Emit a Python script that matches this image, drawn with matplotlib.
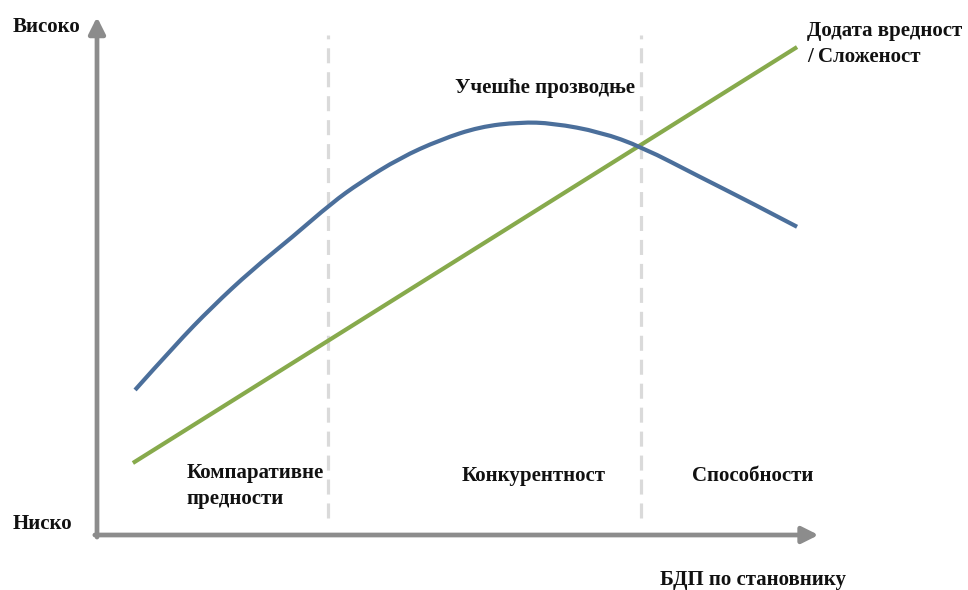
import matplotlib.pyplot as plt
from matplotlib.path import Path
from matplotlib.patches import PathPatch

plt.rcParams['font.family'] = ['Liberation Serif', 'DejaVu Serif']

# values on a 0-100 conceptual scale (x: БДП, y: ниско -> високо)
blue_x = [5.3, 10.9, 16.0, 21.6, 27.2, 32.7, 36.6, 42.2, 47.8, 53.3, 58.9, 63.5, 70.1, 75.9, 84.0, 90.9, 97.5]
blue_y = [28.0, 36.7, 44.0, 51.2, 57.5, 64.1, 68.0, 72.8, 76.3, 78.8, 79.7, 79.5, 77.8, 74.9, 69.1, 64.3, 59.5]
green_x = [5.0, 97.5]
green_y = [13.9, 94.2]
borders = [32.2, 75.8]
stage_labels = ['Компаративне\nпредности', 'Конкурентност', 'Способности']


def smooth_path(xs, ys):
    # quadratic bezier through the midpoints, data points as control points
    pts = list(zip(xs, ys))
    verts = [pts[0]]
    codes = [Path.MOVETO]
    for i in range(1, len(pts) - 1):
        nxt = pts[i + 1] if i == len(pts) - 2 else ((pts[i][0] + pts[i + 1][0]) / 2, (pts[i][1] + pts[i + 1][1]) / 2)
        verts += [pts[i], nxt]
        codes += [Path.CURVE3, Path.CURVE3]
    return Path(verts, codes)


fig = plt.figure(figsize=(9.68, 5.90), dpi=100)
ax = fig.add_axes([97 / 968, 55 / 590, 718 / 968, 518 / 590])
ax.set_xlim(0, 100)
ax.set_ylim(0, 100)
ax.axis('off')

# dashed stage borders
for b in borders:
    ax.plot([b, b], [3.3, 96.5], color='#dadada', lw=2.3, dashes=(4.7, 2.8), clip_on=False, zorder=1)

ax.add_patch(PathPatch(smooth_path(blue_x, blue_y), facecolor='none', edgecolor='#4b6f9b',
                       lw=3.0, capstyle='butt', clip_on=False, zorder=3))
ax.plot(green_x, green_y, color='#87aa4c', lw=3.0, solid_capstyle='butt', clip_on=False, zorder=2)

# axes with arrows
arrow = dict(arrowstyle='-|>,head_length=0.7,head_width=0.35', color='#8c8c8c', lw=3.4,
             shrinkA=0, shrinkB=0, mutation_scale=14)
ax.annotate('', xy=(0, 100), xytext=(0, -0.4), arrowprops=arrow, annotation_clip=False)
ax.annotate('', xy=(100.5, 0), xytext=(-0.3, 0), arrowprops=arrow, annotation_clip=False)

fs = 15
kw = dict(fontsize=fs, fontweight='bold', color='#111111', clip_on=False)
ax.text(-11.8, 98.1, 'Високо', ha='left', va='center', **kw)
ax.text(-11.7, 2.1, 'Ниско', ha='left', va='center', **kw)
ax.text(98.9, 94.8, 'Додата вредност\n/ Сложеност', ha='left', va='center', linespacing=1.4, **kw)
ax.text(49.9, 86.3, 'Учешће прозводње', ha='left', va='center', **kw)
ax.text(12.5, 9.5, stage_labels[0], ha='left', va='center', linespacing=1.4, **kw)
ax.text(50.8, 11.4, stage_labels[1], ha='left', va='center', **kw)
ax.text(82.9, 11.4, stage_labels[2], ha='left', va='center', **kw)
ax.text(78.4, -8.7, 'БДП по становнику', ha='left', va='center', **kw)

fig.savefig('out.png', dpi=100)
